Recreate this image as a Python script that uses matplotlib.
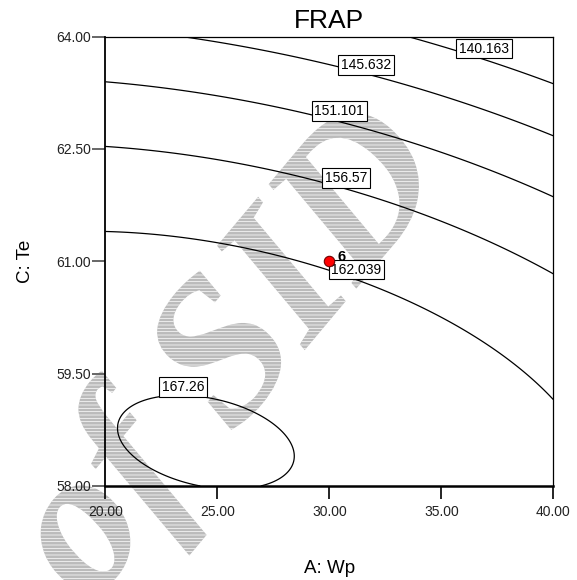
import numpy as np
import matplotlib
matplotlib.use("Agg")
import matplotlib.pyplot as plt
from matplotlib.textpath import TextPath
from matplotlib.patches import PathPatch
from matplotlib.font_manager import FontProperties
from matplotlib.transforms import Affine2D, IdentityTransform

plt.rcParams["font.family"] = ["Liberation Sans", "DejaVu Sans"]
plt.rcParams["hatch.linewidth"] = 0.5

# quadratic response surface in coded units (A = Wp, C = Te)
# FRAP = b0 + bA*A + bC*C + bAA*A^2 + bCC*C^2 + bAC*A*C
b0 = 161.56
bA = -3.851
bC = -12.202
bAA = -1.917
bCC = -6.84
bAC = -2.16

wp_range = [20.0, 40.0]
te_range = [58.0, 64.0]

levels = [140.163, 145.632, 151.101, 156.57, 162.039, 167.26]
level_labels = ["140.163", "145.632", "151.101", "156.57", "162.039", "167.26"]
label_wp = [36.91, 31.65, 30.45, 30.75, 31.21, 23.46]
label_te = [63.84, 63.62, 63.01, 62.11, 60.89, 59.32]

design_wp = [30.0]
design_te = [61.0]
design_reps = ["6"]

x_ticks = [20.0, 25.0, 30.0, 35.0, 40.0]
y_ticks = [58.0, 59.5, 61.0, 62.5, 64.0]


def frap(wp, te):
    a = (wp - 30.0) / 10.0
    c = (te - 61.0) / 3.0
    return b0 + bA * a + bC * c + bAA * a**2 + bCC * c**2 + bAC * a * c


fig = plt.figure(figsize=(5.77, 5.80), dpi=100)
ax = fig.add_axes([0.1825, 0.1621, 0.7764, 0.7747])
ax.set_facecolor("none")

# watermark behind everything
tp = TextPath((0, 0), "of SID", size=1,
              prop=FontProperties(family="Liberation Serif", style="italic", weight="bold"))
wm = Affine2D().scale(205).rotate_deg(50).translate(90, -26).transform_path(tp)
fig.add_artist(PathPatch(wm, facecolor="#bbbbbb", edgecolor="white", lw=0,
                         hatch="-----", transform=IdentityTransform(), zorder=-5))

wp = np.linspace(wp_range[0], wp_range[1], 400)
te = np.linspace(te_range[0], te_range[1], 400)
W, T = np.meshgrid(wp, te)
Z = frap(W, T)
ax.contour(W, T, Z, levels=levels, colors="black", linewidths=0.9)

for txt, x, y in zip(level_labels, label_wp, label_te):
    ax.text(x, y, txt, ha="center", va="center", fontsize=10, zorder=5,
            bbox=dict(boxstyle="square,pad=0.2", fc="white", ec="black", lw=0.8))

ax.plot(design_wp, design_te, "o", color="red", mec="#700000", mew=0.8, ms=7.5, zorder=6)
for x, y, n in zip(design_wp, design_te, design_reps):
    ax.text(x + 0.35, y + 0.06, n, ha="left", va="center", fontsize=10.5,
            fontweight="bold", zorder=6)

ax.set_xlim(wp_range)
ax.set_ylim(te_range)
ax.set_xticks(x_ticks)
ax.set_xticklabels([f"{t:.2f}" for t in x_ticks])
ax.set_yticks(y_ticks)
ax.set_yticklabels([f"{t:.2f}" for t in y_ticks])
ax.tick_params(axis="x", direction="out", length=9.4, width=1.2, color="black",
               labelsize=10, pad=4.3, labelcolor="#222222")
ax.tick_params(axis="y", direction="out", length=9.4, width=1.4, color="#666666",
               labelsize=10, pad=1, labelcolor="#222222")
ax.spines["left"].set_linewidth(1.3)
ax.spines["bottom"].set_linewidth(1.8)
ax.spines["top"].set_linewidth(0.9)
ax.spines["right"].set_linewidth(0.9)

ax.set_title("FRAP", fontsize=19, pad=6)
ax.set_xlabel("A: Wp", fontsize=13.5)
ax.xaxis.set_label_coords(0.5, -0.165)
ax.set_ylabel("C: Te", fontsize=13.5)
ax.yaxis.set_label_coords(-0.16, 0.5)

fig.savefig("out.png", dpi=100)
